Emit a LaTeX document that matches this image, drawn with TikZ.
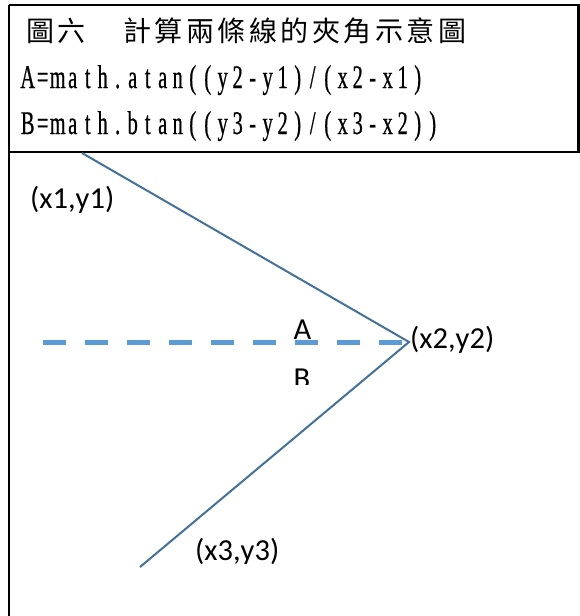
\documentclass[tikz,border=0pt]{standalone}
\usepackage{fontspec}
\setmainfont{Carlito}
\newfontfamily\cjkfont{Noto Sans CJK TC}
\newfontfamily\narrowfont[FakeStretch=0.62,FakeBold=0.6]{Liberation Serif}
\newlength\cellw
\def\cells#1#2{\setlength\cellw{#1}\cellsloop#2\relax}
\def\cellsloop#1{\ifx#1\relax\else\makebox[\cellw][c]{#1}\expandafter\cellsloop\fi}
\definecolor{lineblue}{HTML}{41719C}
\definecolor{dashblue}{HTML}{5B9BD5}
\tikzset{
  border/.style={line width=2.5pt, black},
  ray/.style={line width=2pt, lineblue},
  refline/.style={line width=5pt, dashblue, dash pattern=on 23.5pt off 18.5pt},
  title/.style={anchor=base west, inner sep=0pt, font=\cjkfont\fontsize{28}{28}\selectfont},
  formula/.style={anchor=base west, inner sep=0pt, font=\narrowfont\fontsize{33}{33}\selectfont},
  ptlabel/.style={anchor=base west, inner sep=0pt, font=\fontsize{30.5}{30.5}\selectfont},
  anglabel/.style={anchor=base, inner sep=0pt, font=\fontsize{30.5}{30.5}\selectfont}
}
\begin{document}
\begin{tikzpicture}[x=1pt,y=-1pt]
\useasboundingbox (0,0) rectangle (580,616);
% table borders
\coordinate (tl) at (9,5);
\coordinate (tr) at (578.5,5);
\coordinate (ml) at (9,152);
\coordinate (mr) at (578.5,152);
\coordinate (bl) at (9,616);
\coordinate (trr) at (580,5);
\coordinate (mrr) at (580,152);
\draw[border] (tl) -- (trr);
\draw[border] (ml) -- (mrr);
\draw[border] (tl) -- (bl);
\draw[border] (tr) -- (mr);
% header texts
\node[title] (t1) at (24.5,41) {\cells{31.5pt}{圖六}};
\node[title] (t2) at (121.5,41) {\cells{31.5pt}{計算兩條線的夾角示意圖}};
\node[formula] (f1) at (20,88) {\cells{15pt}{A=math.atan((y2-y1)/(x2-x1)}};
\node[formula] (f2) at (20,134) {\cells{15pt}{B=math.btan((y3-y2)/(x3-x2))}};
% geometry
\coordinate (p1) at (82,153);
\coordinate (p2) at (409,342);
\coordinate (p3) at (140,567);
\coordinate (d0) at (42.5,342.5);
\coordinate (d1) at (404,342.5);
\draw[refline] (d0) -- (d1);
\draw[ray] (p1) -- (p2) -- (p3);
% labels
\node[ptlabel] (l1) at (30,208) {(x1,y1)};
\node[ptlabel] (l2) at (410,348) {(x2,y2)};
\begin{scope}
\clip (150,500) rectangle (320,563.5);
\node[ptlabel] (l3) at (195,560.5) {(x3,y3)};
\end{scope}
\node[anglabel] (la) at (302.5,339) {A};
\begin{scope}
\clip (250,300) rectangle (350,384);
\node[anglabel] (lb) at (302,388) {B};
\end{scope}
\end{tikzpicture}
\end{document}
